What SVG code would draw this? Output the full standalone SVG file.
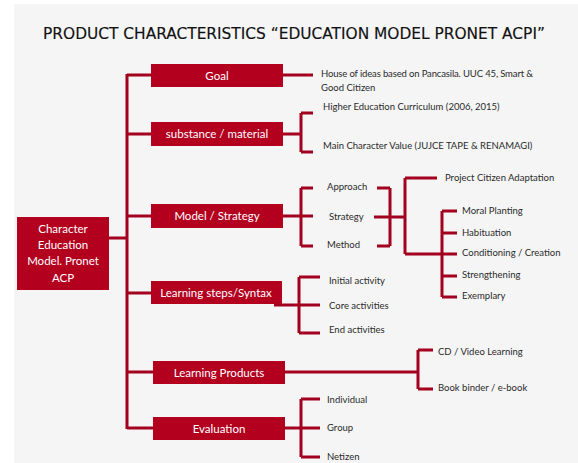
<svg xmlns="http://www.w3.org/2000/svg" width="578" height="463" viewBox="0 0 578 463">
<style>
.box{fill:#b3001f}
.bt{font-family:Lato,"Open Sans","DejaVu Sans",sans-serif;font-size:11.5px;fill:#ffffff;text-anchor:middle}
.t{font-family:Lato,"Liberation Sans",sans-serif;font-size:9.5px;fill:#2a2a2a}
.ln{stroke:#a3001f;stroke-width:3;fill:none}
.title{font-family:"DejaVu Sans","Liberation Sans",sans-serif;font-size:15.4px;fill:#111;stroke:#111;stroke-width:0.15;text-anchor:middle}
</style>
<rect x="0" y="0" width="578" height="463" fill="#ffffff"/>
<rect x="14" y="4" width="564" height="459" fill="#f5f5f5"/>
<text class="title" x="294" y="39">PRODUCT CHARACTERISTICS “EDUCATION MODEL  PRONET ACPI”</text>
<g id="connectors">
<path class="ln" d="M109 238H127M127 74V429M127 75H151M127 134H151M127 216H151M127 293H151M127 372H153M127 428H153"/>
<path class="ln" d="M283 75H313"/>
<path class="ln" d="M283 134H301M301 113V152M301 113H313M301 152H313"/>
<path class="ln" d="M283 216H313M301 188V246M301 188H313M301 246H313"/>
<path class="ln" d="M377 188H390M374 217H405M377 246H390M390 188V246M405 178V254M405 178H437M405 254H457M442 211V297M442 211H457M442 233H457M442 276H457M442 297H457"/>
<path class="ln" d="M274 305H320M299 277V333M299 277H320M299 333H320"/>
<path class="ln" d="M285 372H418M418 350V389M418 350H433M418 389H433"/>
<path class="ln" d="M285 428H320M301 399V457M301 399H320M301 457H320"/>
</g>
<g id="center"><rect class="box" x="17" y="217" width="92" height="73"/><text class="bt" x="63" y="233">Character</text><text class="bt" x="63" y="249">Education</text><text class="bt" x="63" y="265">Model. Pronet</text><text class="bt" x="63" y="282">ACP</text></g>
<g id="goal"><rect class="box" x="151" y="64" width="132" height="23"/><text class="bt" x="217" y="79.5">Goal</text></g>
<g id="substance"><rect class="box" x="151" y="122" width="132" height="24"/><text class="bt" x="217" y="138">substance / material</text></g>
<g id="model"><rect class="box" x="151" y="204" width="132" height="24"/><text class="bt" x="217" y="220">Model / Strategy</text></g>
<g id="steps"><rect class="box" x="151" y="281" width="131" height="23"/><text class="bt" x="216" y="296.5">Learning steps/Syntax</text></g>
<g id="products"><rect class="box" x="153" y="361" width="132" height="23"/><text class="bt" x="219" y="376.5">Learning Products</text></g>
<g id="evaluation"><rect class="box" x="153" y="417" width="132" height="23"/><text class="bt" x="219" y="432.5">Evaluation</text></g>
<g id="goal-items"><text class="t" x="321" y="77" textLength="212">House of ideas based on Pancasila. UUC 45, Smart &amp;</text><text class="t" x="321" y="91">Good Citizen</text></g>
<g id="substance-items"><text class="t" x="323" y="110">Higher Education Curriculum (2006, 2015)</text><text class="t" x="323" y="149">Main Character Value (JUJCE TAPE &amp; RENAMAGI)</text></g>
<g id="model-items"><text class="t" x="327" y="190">Approach</text><text class="t" x="329" y="220">Strategy</text><text class="t" x="327" y="248">Method</text></g>
<g id="project"><text class="t" x="445" y="181">Project Citizen Adaptation</text></g>
<g id="method-items"><text class="t" x="462" y="214">Moral Planting</text><text class="t" x="462" y="236">Habituation</text><text class="t" x="462" y="256">Conditioning / Creation</text><text class="t" x="462" y="278">Strengthening</text><text class="t" x="462" y="299">Exemplary</text></g>
<g id="steps-items"><text class="t" x="329" y="284">Initial activity</text><text class="t" x="329" y="309">Core activities</text><text class="t" x="329" y="333">End activities</text></g>
<g id="products-items"><text class="t" x="438" y="355">CD / Video Learning</text><text class="t" x="438" y="391">Book binder / e-book</text></g>
<g id="evaluation-items"><text class="t" x="327" y="403">Individual</text><text class="t" x="327" y="431">Group</text><text class="t" x="327" y="460">Netizen</text></g>
</svg>
